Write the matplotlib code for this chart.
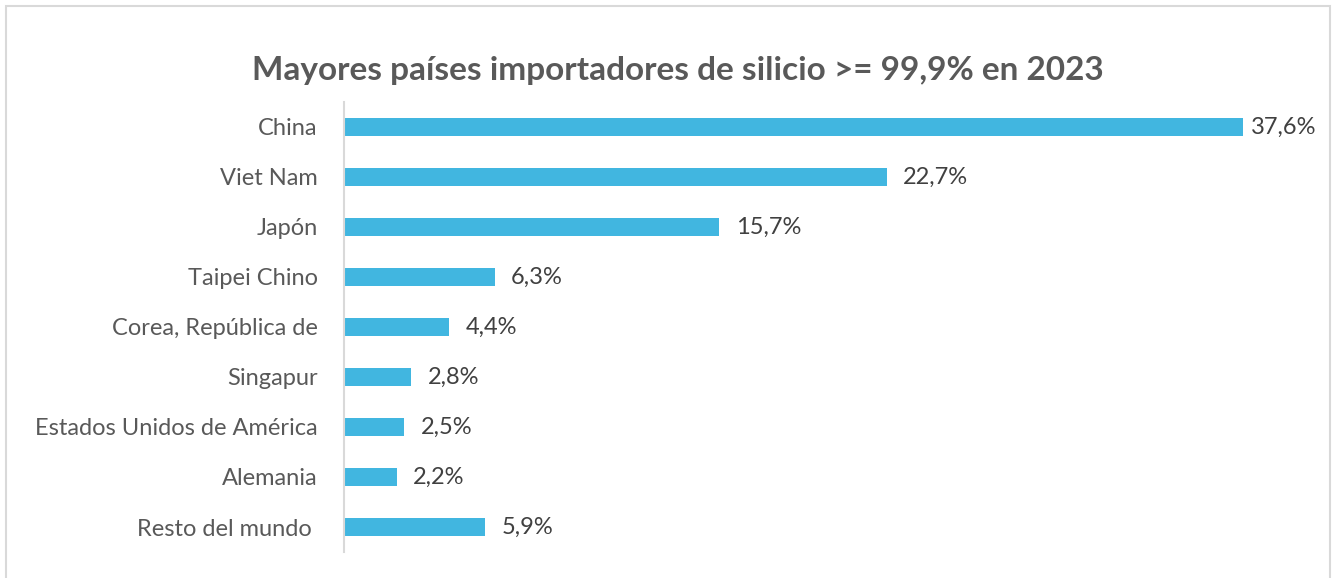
import matplotlib
matplotlib.use("Agg")
import matplotlib.pyplot as plt
from matplotlib.patches import Rectangle

categories = ["China", "Viet Nam", "Japón", "Taipei Chino", "Corea, República de",
              "Singapur", "Estados Unidos de América", "Alemania", "Resto del mundo "]
values = [37.6, 22.7, 15.7, 6.3, 4.4, 2.8, 2.5, 2.2, 5.9]
value_labels = ["37,6%", "22,7%", "15,7%", "6,3%", "4,4%", "2,8%", "2,5%", "2,2%", "5,9%"]
title = "Mayores países importadores de silicio >= 99,9% en 2023"

plt.rcParams['font.family'] = ['Lato', 'DejaVu Sans']

W, H = 1332, 578
fig = plt.figure(figsize=(W / 100, H / 100), dpi=100)
fig.patch.set_facecolor("white")

# outer border
fig.patches.append(Rectangle((6 / W, -0.05), (1330 - 6) / W, 1.05 - 6 / H,
                             transform=fig.transFigure, fill=False,
                             edgecolor="#D9D9D9", linewidth=1.5))

ax = fig.add_axes([344 / W, 1 - 552 / H, 956 / W, 450 / H])
y = list(range(len(categories)))
ax.barh(y, values, height=0.35, color="#41B6E0")
ax.set_ylim(len(categories) - 0.5, -0.5)
ax.set_xlim(0, 40)
ax.set_yticks(y)
ax.set_yticklabels(categories, fontsize=17, color="#595959")
ax.tick_params(axis="y", length=0, pad=19)
ax.set_xticks([])
for s in ["top", "right", "bottom"]:
    ax.spines[s].set_visible(False)
ax.spines["left"].set_color("#D9D9D9")
ax.spines["left"].set_linewidth(1.5)

for i, (yi, v, lab) in enumerate(zip(y, values, value_labels)):
    off = 6 if i == 0 else 12
    ax.annotate(lab, (v, yi), xytext=(off, 0), textcoords="offset points",
                va="center", ha="left", fontsize=17, color="#404040",
                annotation_clip=False)

fig.text(678 / W, 1 - 80 / H, title, ha="center", va="baseline",
         fontsize=24, fontweight="bold", color="#595959")

fig.savefig("out.png", dpi=100)
